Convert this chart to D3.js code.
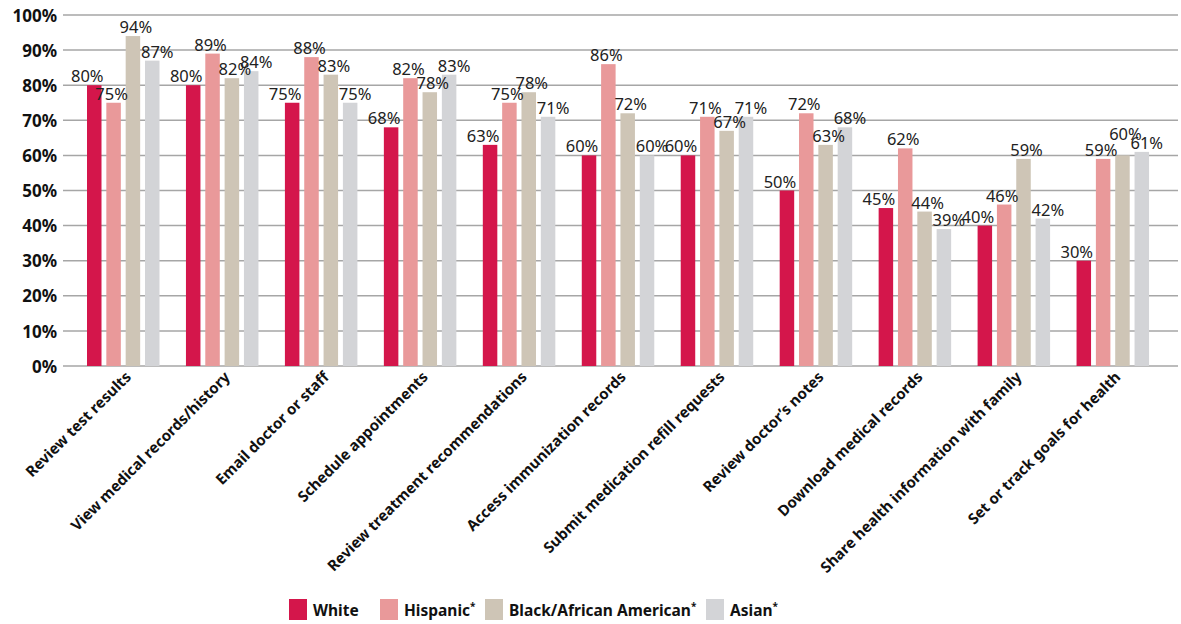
<!DOCTYPE html>
<html>
<head>
<meta charset="utf-8">
<script src="https://cdn.jsdelivr.net/npm/d3@7"></script>
<style>
  body { margin: 0; background: #fff; }
  svg { display: block; }
  text { font-family: "Noto Sans", "Open Sans", sans-serif; }
</style>
</head>
<body>
<svg id="chart" width="1181" height="624"></svg>
<script>
const categories = [
  "Review test results",
  "View medical records/history",
  "Email doctor or staff",
  "Schedule appointments",
  "Review treatment recommendations",
  "Access immunization records",
  "Submit medication refill requests",
  "Review doctor\u2019s notes",
  "Download medical records",
  "Share health information with family",
  "Set or track goals for health"
];
const seriesNames = ["White", "Hispanic", "Black/African American", "Asian"];
const seriesStar = [false, true, true, true];
const whiteVals    = [80, 80, 75, 68, 63, 60, 60, 50, 45, 40, 30];
const hispanicVals = [75, 89, 88, 82, 75, 86, 71, 72, 62, 46, 59];
const blackVals    = [94, 82, 83, 78, 78, 72, 67, 63, 44, 59, 60];
const asianVals    = [87, 84, 75, 83, 71, 60, 71, 68, 39, 42, 61];
const seriesValues = [whiteVals, hispanicVals, blackVals, asianVals];
const colors = ["#d4164b", "#e9999a", "#cec5b6", "#d3d4d7"];
const yTicks = [0, 10, 20, 30, 40, 50, 60, 70, 80, 90, 100];

// label horizontal spread per series (style)
const labelShift = [-7, -2, 3, 5];

const svg = d3.select("#chart");
const gridLeft = 63, gridRight = 1178;
const y = d3.scaleLinear().domain([0, 100]).range([366, 15]);
const x0 = d3.scaleBand().domain(categories).range([73.5, 1162]).paddingInner(0).paddingOuter(0);
const x1 = d3.scaleBand().domain(seriesNames).range([13.5, 86]).paddingInner(0.25).paddingOuter(0);

// gridlines
svg.append("g").selectAll("line").data(yTicks).join("line")
  .attr("x1", gridLeft).attr("x2", gridRight)
  .attr("y1", d => y(d)).attr("y2", d => y(d))
  .attr("stroke", "#a6a6a6").attr("stroke-width", 1.5);

// y axis labels
const yAxis = d3.axisLeft(y).tickValues(yTicks).tickFormat(d => d + "%").tickSize(0).tickPadding(0);
const ya = svg.append("g").attr("transform", "translate(57,0)").call(yAxis);
ya.select(".domain").remove();
ya.selectAll("text").attr("font-size", 17).attr("font-weight", "bold").attr("fill", "#111")
  .attr("font-family", "Noto Sans, Open Sans, sans-serif").attr("dy", "0.36em");

// bars
const groups = svg.append("g").selectAll("g").data(categories).join("g")
  .attr("transform", d => `translate(${x0(d)},0)`);

groups.each(function(cat, ci) {
  const g = d3.select(this);
  seriesNames.forEach((s, si) => {
    const v = seriesValues[si][ci];
    g.append("rect")
      .attr("x", x1(s)).attr("width", x1.bandwidth())
      .attr("y", y(v)).attr("height", y(0) - y(v))
      .attr("fill", colors[si]);
  });
});

// value labels
const labelLayer = svg.append("g");
groups.each(function(cat, ci) {
  const base = x0(cat);
  const labs = seriesNames.map((s, si) => {
    const v = seriesValues[si][ci];
    const t = labelLayer.append("text")
      .attr("text-anchor", "middle")
      .attr("font-family", "Roboto, Noto Sans, sans-serif")
      .attr("font-size", 16.5).attr("fill", "#222")
      .text(v + "%");
    const w = t.node().getComputedTextLength();
    return { t, cx: base + x1(s) + x1.bandwidth() / 2 + labelShift[si], by: y(v) - 3, w };
  });
  const overlaps = (a, b) => Math.abs(a.cx - b.cx) < (a.w + b.w) / 2 && Math.abs(a.by - b.by) < 13;
  labs.forEach((L, i) => {
    const prev = labs[i - 1], next = labs[i + 1];
    if (prev && next && overlaps(L, prev) && overlaps(L, next)) L.raise = 12;
  });
  labs.forEach(L => L.t.attr("x", L.cx).attr("y", L.by - (L.raise || 0)));
});

// x axis category labels
const xAxis = d3.axisBottom(x0).tickSize(0).tickPadding(0);
const xa = svg.append("g").attr("transform", "translate(0,366)").call(xAxis);
xa.select(".domain").remove();
xa.selectAll("text")
  .attr("font-size", 15).attr("font-weight", "bold").attr("fill", "#111")
  .attr("font-family", "Noto Sans, Open Sans, sans-serif")
  .attr("text-anchor", "end")
  .attr("dy", null).attr("y", 0)
  .attr("transform", "translate(9,12) rotate(-45)");

// legend
const legendX = [289, 380, 485, 706];
const leg = svg.append("g");
seriesNames.forEach((s, i) => {
  leg.append("rect").attr("x", legendX[i]).attr("y", 599).attr("width", 18).attr("height", 21).attr("fill", colors[i]);
  const t = leg.append("text").attr("x", legendX[i] + 24).attr("y", 616)
    .attr("font-size", 15.5).attr("font-weight", "bold").attr("fill", "#111");
  t.append("tspan").text(s);
  if (seriesStar[i]) t.append("tspan").attr("font-size", 10).attr("dy", -6).text("*");
});
</script>
</body>
</html>
